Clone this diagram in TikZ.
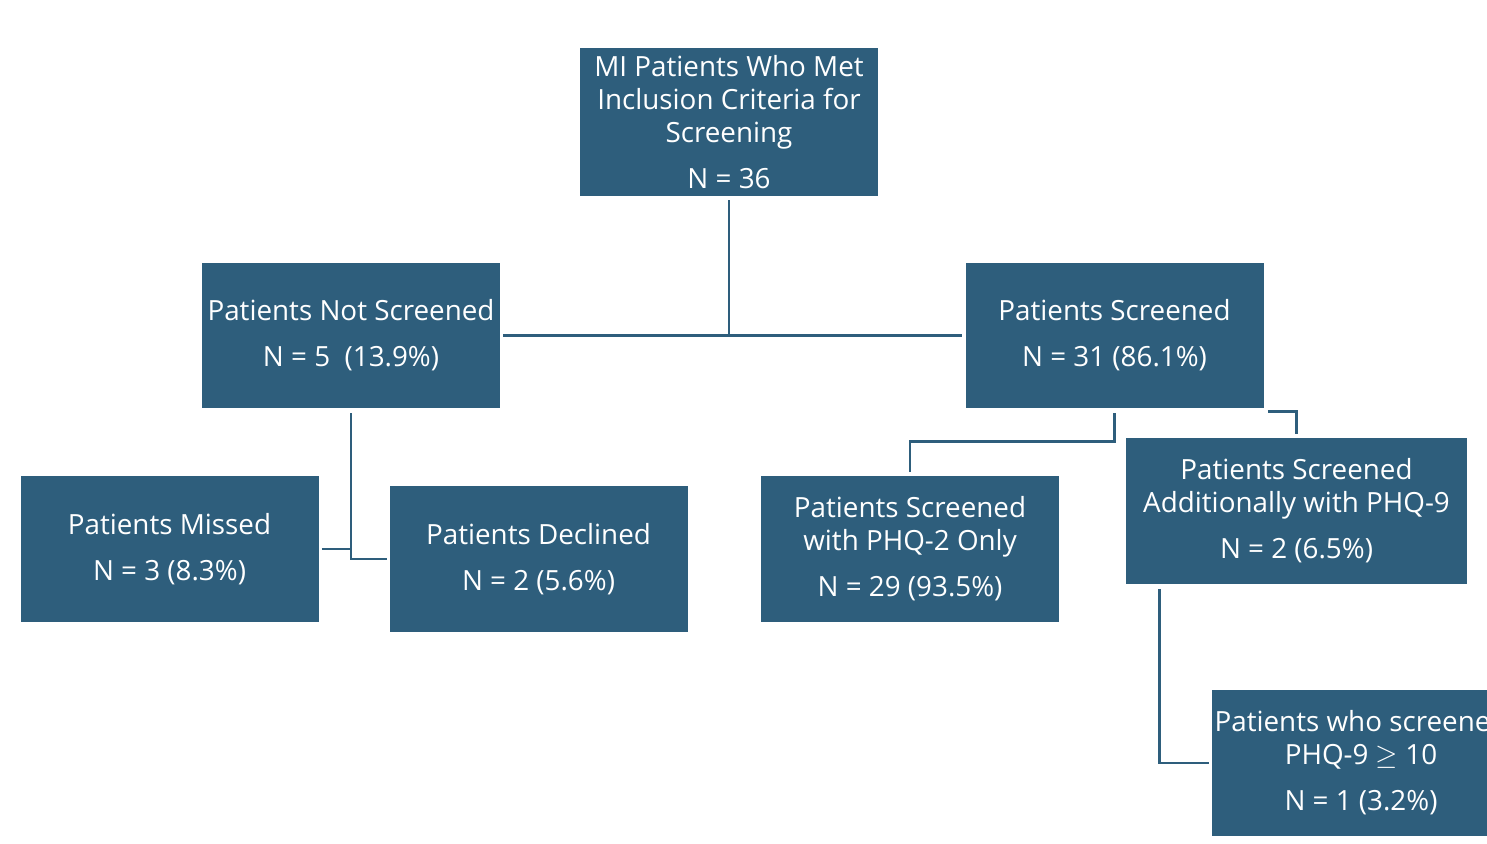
\documentclass[tikz,border=0pt]{standalone}
\usepackage{fontspec}
\setmainfont{Open Sans}
\usetikzlibrary{calc}
\definecolor{boxblue}{RGB}{46,94,124}

\begin{document}
\begin{tikzpicture}[x=0.5pt,y=-0.5pt,
  box/.style={fill=boxblue, text=white, align=center, inner sep=0pt,
    minimum width=149pt, minimum height=73pt,
    font=\fontsize{13.9}{16.5}\selectfont},
  link/.style={draw=boxblue, line width=1.3pt}]
\useasboundingbox (0,0) rectangle (1487,844);
\clip (0,0) rectangle (1487,844);
% boxes
\node[box, minimum height=74pt] (top) at (729,122) {MI Patients Who Met\\Inclusion Criteria for\\Screening\\[6.5pt]N = 36};
\node[box, minimum height=72.5pt] (notscr) at (351,335.5) {Patients Not Screened\\[6.5pt]N = 5\ \ (13.9\%)};
\node[box, minimum height=72.5pt] (scr) at (1114.5,335.5) {Patients Screened\\[6.5pt]N = 31 (86.1\%)};
\node[box] (missed) at (169.5,549) {Patients Missed\\[6.5pt]N = 3 (8.3\%)};
\node[box] (declined) at (538.5,559) {Patients Declined\\[6.5pt]N = 2 (5.6\%)};
\node[box] (phqtwo) at (910,549) {Patients Screened\\with PHQ-2 Only\\[6.5pt]N = 29 (93.5\%)};
\node[box, minimum width=170.5pt] (phqnine) at (1296.5,511) {Patients Screened\\Additionally with PHQ-9\\[6.5pt]N = 2 (6.5\%)};
\node[box] (phqhigh) at (1361,763) {Patients who screened\\PHQ-9 $\geq$ 10\\[6.5pt]N = 1 (3.2\%)};
% connectors
\coordinate (drop) at ($(phqnine.south west)+(34,0)$);
\draw[link, shorten <=2pt] (top.south) -- (top.south |- notscr.east);
\draw[link, shorten <=1.5pt, shorten >=1.5pt] (notscr.east) -- (scr.west);
\draw[link, shorten <=2.5pt, shorten >=1pt] (notscr.south) -- (notscr.south |- declined.west) -- (declined.west);
\draw[link, shorten <=1.5pt] (missed.east) -- (notscr.south |- missed.east);
\draw[link, shorten <=2.5pt, shorten >=2pt] (scr.south) -- ++(0,33) -| (phqtwo.north);
\draw[link, shorten >=2pt] ($(scr.south east)+(4,3)$) -| (phqnine.north);
\draw[link, shorten <=2.5pt, shorten >=1.5pt] (drop) -- (drop |- phqhigh.west) -- (phqhigh.west);
\end{tikzpicture}
\end{document}
